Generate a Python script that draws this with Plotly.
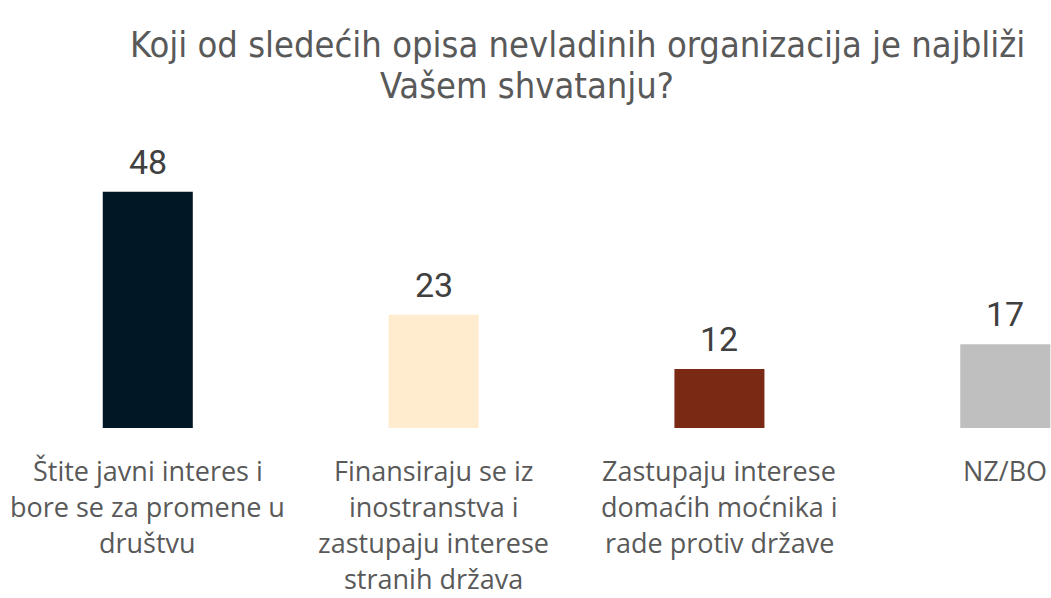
import plotly.graph_objects as go

categories = [
    "Štite javni interes i<br>bore se za promene u<br>društvu",
    "Finansiraju se iz<br>inostranstva i<br>zastupaju interese<br>stranih država",
    "Zastupaju interese<br>domaćih moćnika i<br>rade protiv države",
    "NZ/BO",
]
values = [48, 23, 12, 17]
bar_colors = ["#021726", "#FFEBCD", "#7A2A14", "#BFBFBF"]
title_line1 = "Koji od sledećih opisa nevladinih organizacija je najbliži"
title_line2 = "Vašem shvatanju?"

W, H = 1051, 598
MT, MB = 100, 170

fig = go.Figure()
xs = list(range(len(categories)))
fig.add_trace(go.Bar(
    x=xs, y=values, marker=dict(color=bar_colors, line=dict(width=0)),
    width=0.315, hoverinfo="skip",
))

ann = []
# value labels
for i, v in enumerate(values):
    ann.append(dict(x=i, y=v, xref="x", yref="y", text=str(v), showarrow=False,
                    yanchor="middle", yshift=30,
                    font=dict(family="Roboto, Open Sans, sans-serif", size=34, color="#404040")))
# category labels, one annotation per line
for i, c in enumerate(categories):
    for j, line in enumerate(c.split("<br>")):
        ann.append(dict(x=i, y=0, xref="x", yref="y", text=line, showarrow=False,
                        yanchor="middle", yshift=-(42 + 36 * j),
                        font=dict(family="Open Sans, Noto Sans, sans-serif", size=27, color="#595959")))
ph = H - MT - MB
tfont = dict(family="Liberation Sans Narrow, DejaVu Sans Condensed, Roboto, sans-serif", size=36, color="#595959")
ann.append(dict(x=577 / W, y=(H - MB - 44) / ph, xref="paper", yref="paper", text=title_line1,
                showarrow=False, xanchor="center", yanchor="middle", font=tfont))
ann.append(dict(x=527 / W, y=(H - MB - 86) / ph, xref="paper", yref="paper", text=title_line2,
                showarrow=False, xanchor="center", yanchor="middle", font=tfont))

fig.update_layout(
    width=W, height=H,
    margin=dict(l=0, r=0, t=MT, b=MB),
    plot_bgcolor="white", paper_bgcolor="white",
    showlegend=False,
    xaxis=dict(range=[-0.517, 3.16], showticklabels=False, showgrid=False, zeroline=False,
               showline=False, fixedrange=True),
    yaxis=dict(range=[0, ph / 4.92], showticklabels=False, showgrid=False, zeroline=False,
               showline=False, fixedrange=True),
    annotations=ann,
)
fig.write_html("out.html", config={"displayModeBar": False},
               post_script="document.body.style.margin='0';document.body.style.overflow='hidden';")
